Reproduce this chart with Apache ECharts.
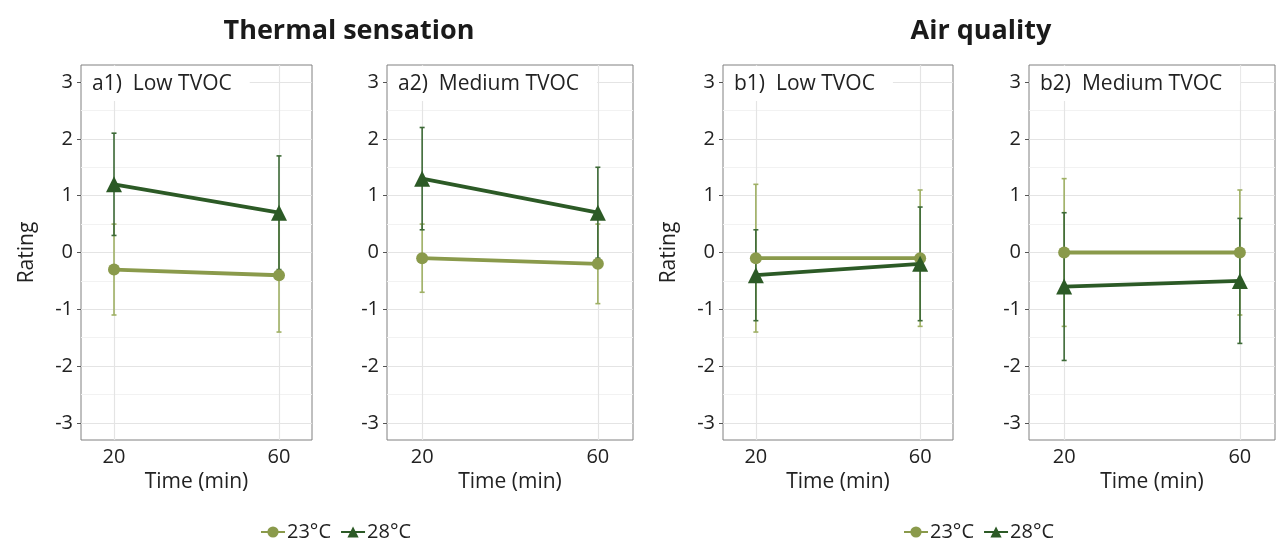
<!DOCTYPE html>
<html>
<head>
<meta charset="utf-8">
<script src="https://cdn.jsdelivr.net/npm/echarts@6/dist/echarts.min.js"></script>
<style>
html,body{margin:0;padding:0;background:#fff;}
#chart{width:1282px;height:543px;}
</style>
</head>
<body>
<div id="chart"></div>
<script>
// ---- data ----
const times = [20, 60];
const yTicks = [-3, -2, -1, 0, 1, 2, 3];
const yMinor = [-2.5, -1.5, -0.5, 0.5, 1.5, 2.5];
const panelLabels = ['a1)  Low TVOC', 'a2)  Medium TVOC', 'b1)  Low TVOC', 'b2)  Medium TVOC'];
const groupTitles = ['Thermal sensation', 'Air quality'];
const seriesNames = ['23°C', '28°C'];
// per panel [t20, t60]
const mean23 = [[-0.3, -0.4], [-0.1, -0.2], [-0.1, -0.1], [0, 0]];
const low23  = [[-1.1, -1.4], [-0.7, -0.9], [-1.4, -1.3], [-1.3, -1.1]];
const high23 = [[0.5, 0.6], [0.5, 0.5], [1.2, 1.1], [1.3, 1.1]];
const mean28 = [[1.2, 0.7], [1.3, 0.7], [-0.4, -0.2], [-0.6, -0.5]];
const low28  = [[0.3, -0.3], [0.4, -0.1], [-1.2, -1.2], [-1.9, -1.6]];
const high28 = [[2.1, 1.7], [2.2, 1.5], [0.4, 0.8], [0.7, 0.6]];

// ---- layout / style ----
const FONT = "'Open Sans', 'Noto Sans', sans-serif";
const gridsPx = [
  {left: 81, width: 231},
  {left: 387, width: 246},
  {left: 723, width: 230},
  {left: 1029, width: 246}
];
const TOP = 65, HEIGHT = 375;
const C23 = '#8a9a4b', C28 = '#2c5a26';
const E23 = '#9fb064', E28 = '#3d6a37';

const chart = echarts.init(document.getElementById('chart'));

const grid = [], xAxis = [], yAxis = [], series = [], graphic = [];

gridsPx.forEach((g, i) => {
  grid.push({left: g.left, top: TOP, width: g.width, height: HEIGHT,
    show: true, borderColor: '#808080', borderWidth: 1, backgroundColor: '#fff', containLabel: false});
  xAxis.push({
    type: 'value', gridIndex: i, min: 12, max: 68,
    name: 'Time (min)', nameLocation: 'middle', nameGap: 28,
    nameTextStyle: {fontFamily: FONT, fontSize: 21, color: '#222'},
    axisLine: {show: false},
    axisTick: {show: true, length: 4, lineStyle: {color: '#555'}, customValues: times},
    axisLabel: {fontFamily: FONT, fontSize: 20, color: '#222', margin: 7, customValues: times},
    splitLine: {show: false}
  });
  yAxis.push({
    type: 'value', gridIndex: i, min: -3.3, max: 3.3,
    name: (i % 2 === 0) ? 'Rating' : '', nameLocation: 'middle', nameGap: 43,
    nameTextStyle: {fontFamily: FONT, fontSize: 21, color: '#222'},
    axisLine: {show: false},
    axisTick: {show: true, length: 4, lineStyle: {color: '#555'}, customValues: yTicks},
    axisLabel: {fontFamily: FONT, fontSize: 20, color: '#222', margin: 8, customValues: yTicks},
    splitLine: {show: false}
  });
  // gridlines
  const ml = [];
  yMinor.forEach(v => ml.push({yAxis: v, lineStyle: {color: '#f2f2f2', width: 1, type: 'solid'}}));
  yTicks.forEach(v => ml.push({yAxis: v, lineStyle: {color: '#e4e4e4', width: 1.2, type: 'solid'}}));
  times.forEach(v => ml.push({xAxis: v, lineStyle: {color: '#e4e4e4', width: 1.2, type: 'solid'}}));
  series.push({
    type: 'line', name: 'grid' + i, xAxisIndex: i, yAxisIndex: i, data: [], z: 1, silent: true,
    markLine: {silent: true, z: 1, symbol: 'none', label: {show: false}, animation: false, data: ml}
  });
  // error bars
  const mkErr = (lo, hi, color, name, z) => ({
    type: 'custom', name: name, xAxisIndex: i, yAxisIndex: i, z: z, silent: true,
    itemStyle: {color: color},
    data: times.map((t, k) => [t, lo[i][k], hi[i][k]]),
    renderItem: function (params, api) {
      const x = api.value(0);
      const p1 = api.coord([x, api.value(1)]);
      const p2 = api.coord([x, api.value(2)]);
      const w = 2.5;
      const st = {stroke: color, lineWidth: 1.6, fill: null};
      return {type: 'group', children: [
        {type: 'line', shape: {x1: p1[0], y1: p1[1], x2: p2[0], y2: p2[1]}, style: st},
        {type: 'line', shape: {x1: p1[0] - w, y1: p1[1], x2: p1[0] + w, y2: p1[1]}, style: st},
        {type: 'line', shape: {x1: p2[0] - w, y1: p2[1], x2: p2[0] + w, y2: p2[1]}, style: st}
      ]};
    },
    encode: {x: 0, y: [1, 2]}
  });
  series.push(mkErr(low23, high23, E23, 'err23_' + i, 6));
  series.push(mkErr(low28, high28, E28, 'err28_' + i, 7));
  series.push({
    type: 'line', name: seriesNames[0], xAxisIndex: i, yAxisIndex: i, z: 10,
    data: times.map((t, k) => [t, mean23[i][k]]),
    symbol: 'circle', symbolSize: 12, lineStyle: {color: C23, width: 3.8},
    itemStyle: {color: C23}, color: C23, animation: false
  });
  series.push({
    type: 'line', name: seriesNames[1], xAxisIndex: i, yAxisIndex: i, z: 11,
    data: times.map((t, k) => [t, mean28[i][k]]),
    symbol: 'triangle', symbolSize: 16, lineStyle: {color: C28, width: 3.8},
    itemStyle: {color: C28}, color: C28, animation: false
  });
  // panel label
  graphic.push({
    type: 'text', left: g.left + 1, top: TOP + 1, z: 100,
    style: {text: panelLabels[i], fill: '#222', font: '21px ' + FONT,
      backgroundColor: '#fff', padding: [8, 18, 6, 10]}
  });
});

graphic.push({type: 'text', x: 349, y: 31, z: 100,
  style: {text: groupTitles[0], fill: '#1a1a1a', font: 'bold 27px ' + FONT, textAlign: 'center', textVerticalAlign: 'middle'}});
graphic.push({type: 'text', x: 981, y: 31, z: 100,
  style: {text: groupTitles[1], fill: '#1a1a1a', font: 'bold 27px ' + FONT, textAlign: 'center', textVerticalAlign: 'middle'}});

const legendBase = {
  data: seriesNames, orient: 'horizontal', top: 517, itemWidth: 24, itemHeight: 14, itemGap: 9,
  textStyle: {fontFamily: FONT, fontSize: 20, color: '#222', padding: [0, 0, 0, -3]}, selectedMode: false
};

chart.setOption({
  animation: false,
  backgroundColor: '#fff',
  grid: grid, xAxis: xAxis, yAxis: yAxis, series: series, graphic: graphic,
  legend: [
    Object.assign({}, legendBase, {left: 255}),
    Object.assign({}, legendBase, {left: 898})
  ]
});
</script>
</body>
</html>
